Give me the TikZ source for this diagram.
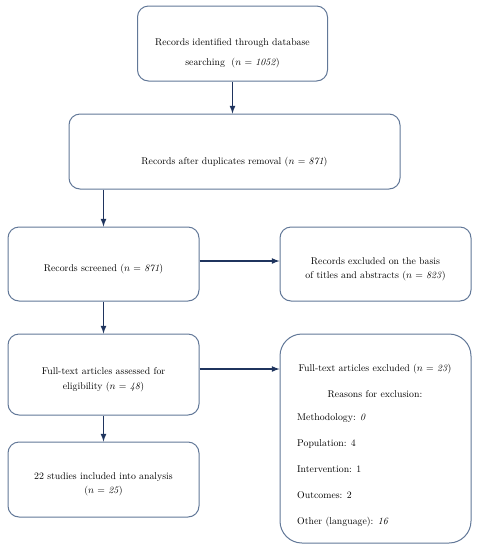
\documentclass[tikz,border=0pt]{standalone}
\usetikzlibrary{arrows, positioning}
\definecolor{boxline}{RGB}{98,120,152}
\definecolor{arrowline}{RGB}{31,52,94}
\tikzset{
  box/.style={draw=boxline, line width=1pt, rounded corners=11pt, fill=white, minimum width=191pt, minimum height=75pt},
  txt/.style={align=center, inner sep=0pt, text=black, font=\fontsize{9.8}{14}\selectfont},
  link/.style={-latex, draw=arrowline, line width=1.6pt}
}
\begin{document}
\begin{tikzpicture}[x=1pt, y=-1pt]
  \useasboundingbox (0,0) rectangle (479,550);
  % boxes
  \path (232.5,43.5) node[box, minimum width=190pt] (id box) {};
  \path (id box.center) ++(0,10) node[txt, font=\fontsize{9.8}{20}\selectfont] (id text) {Records identified through database\\searching~~($n$ = \textit{1052})};
  \path (234.5,151.5) node[box, minimum width=331pt] (dup box) {};
  \path (dup box.center) ++(0,11) node[txt] (dup text) {Records after duplicates removal ($n$ = \textit{871})};
  \path (103.5,264) node[box, minimum height=74pt] (scr box) {};
  \path (scr box.center) ++(0,5) node[txt] (scr text) {Records screened ($n$ = \textit{871})};
  \path (375.5,264) node[box, minimum height=74pt] (ex 1 box) {};
  \path (ex 1 box.center) ++(0,5) node[txt] (ex 1 text) {Records excluded on the basis\\of titles and abstracts ($n$ = \textit{823})};
  \path (103.5,374.5) node[box, minimum height=81pt] (full box) {};
  \path (full box.center) ++(0,5) node[txt, font=\fontsize{9.8}{15}\selectfont] (full text) {Full-text articles assessed for\\eligibility ($n$ = \textit{48})};
  \path (375.5,438.5) node[box, minimum height=209pt, rounded corners=22pt] (ex 2 box) {};
  \path (375,381) node[txt, font=\fontsize{9.8}{26}\selectfont] (ex 2 text) {Full-text articles excluded ($n$ = \textit{23})\\Reasons for exclusion:};
  \path (297,470.5) node[txt, anchor=west, align=left, font=\fontsize{9.8}{26}\selectfont] (reasons) {Methodology: \textit{0}\\Population: 4\\Intervention: 1\\Outcomes: 2\\Other (language): \textit{16}};
  \path (103.5,479.5) node[box] (incl box) {};
  \path (incl box.center) ++(0,5) node[txt] (incl text) {22 studies included into analysis\\($n$ = \textit{25})};
  % arrows
  \draw[link] (id box.south) -- (id box.south |- dup box.north);
  \draw[link] (scr box.north |- dup box.south) -- (scr box.north);
  \draw[link] ([yshift=3pt]scr box.east) -- ([yshift=3pt]scr box.east -| ex 1 box.west);
  \draw[link] (scr box.south) -- (full box.north);
  \draw[link] ([yshift=5.5pt]full box.east) -- ([yshift=5.5pt]full box.east -| ex 2 box.west);
  \draw[link] (full box.south) -- (incl box.north);
\end{tikzpicture}
\end{document}
